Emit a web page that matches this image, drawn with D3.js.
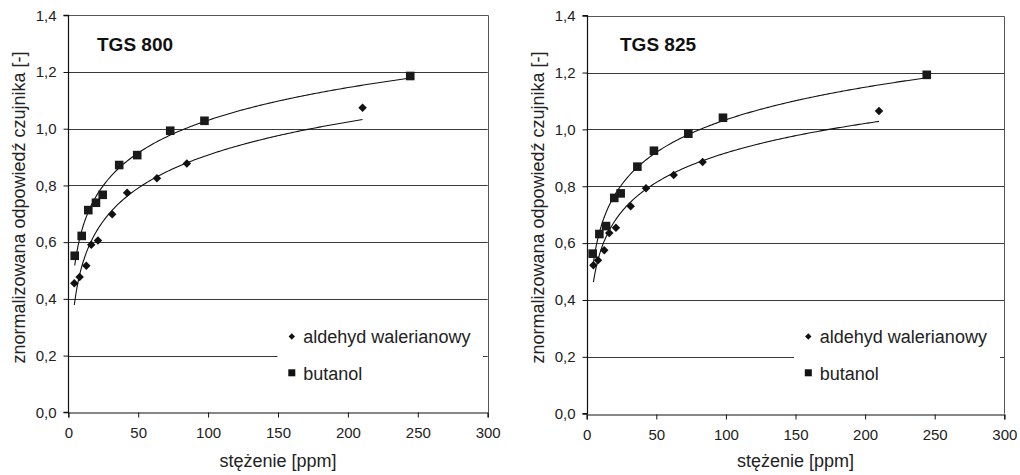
<!DOCTYPE html>
<html>
<head>
<meta charset="utf-8">
<script src="https://cdn.jsdelivr.net/npm/d3@7"></script>
<style>
  html, body { margin: 0; padding: 0; background: #fff; }
  svg { display: block; font-family: "Liberation Sans", Arial, sans-serif; }
</style>
</head>
<body>
<svg id="chart" width="1020" height="475"></svg>
<script>
// ---- data ----
const xTicks = [0, 50, 100, 150, 200, 250, 300];
const yTicks = [0, 0.2, 0.4, 0.6, 0.8, 1.0, 1.2, 1.4];
const seriesNames = ["aldehyd walerianowy", "butanol"];
const panelTitles = ["TGS 800", "TGS 825"];

// TGS 800
const tgs800AldehydX = [4.3, 8.1, 12.9, 16.4, 21.2, 31.4, 42.1, 63.4, 84.8, 210.5];
const tgs800AldehydY = [0.455, 0.477, 0.517, 0.591, 0.606, 0.698, 0.774, 0.825, 0.877, 1.074];
const tgs800ButanolX = [4.6, 9.6, 14.3, 19.8, 24.6, 36.4, 49.3, 72.9, 97.4, 244.6];
const tgs800ButanolY = [0.552, 0.622, 0.713, 0.739, 0.767, 0.872, 0.907, 0.993, 1.028, 1.186];

// TGS 825
const tgs825AldehydX = [4.8, 8.1, 12.6, 16.2, 21.0, 31.6, 42.6, 62.5, 83.3, 210.0];
const tgs825AldehydY = [0.522, 0.540, 0.575, 0.636, 0.654, 0.730, 0.793, 0.840, 0.885, 1.065];
const tgs825ButanolX = [4.3, 9.1, 13.9, 19.8, 24.4, 36.4, 48.3, 73.0, 97.9, 244.3];
const tgs825ButanolY = [0.563, 0.632, 0.660, 0.759, 0.775, 0.869, 0.925, 0.985, 1.041, 1.192];

const xLabel = "stężenie [ppm]";
const yLabel = "znormalizowana odpowiedź czujnika [-]";

// ---- layout ----
const panels = [
  { title: panelTitles[0], left: 68.3, right: 487.7, top: 15.3, bottom: 412.3,
    aX: tgs800AldehydX, aY: tgs800AldehydY, bX: tgs800ButanolX, bY: tgs800ButanolY,
    yTitleX: 18.5, titleX: 97, legendX0: 277.5, legendX1: 483 },
  { title: panelTitles[1], left: 586.7, right: 1004.3, top: 15.7, bottom: 413.7,
    aX: tgs825AldehydX, aY: tgs825AldehydY, bX: tgs825ButanolX, bY: tgs825ButanolY,
    yTitleX: 538, titleX: 620, legendX0: 794, legendX1: 1000 }
];

const svg = d3.select("#chart");
const fmt = d => d.toFixed(1).replace(".", ",");

function logFit(xs, ys) {
  const lx = xs.map(Math.log);
  const mx = d3.mean(lx), my = d3.mean(ys);
  let sxy = 0, sxx = 0;
  lx.forEach((v, i) => { sxy += (v - mx) * (ys[i] - my); sxx += (v - mx) * (v - mx); });
  const b = sxy / sxx, a = my - b * mx;
  return x => a + b * Math.log(x);
}

panels.forEach(p => {
  const x = d3.scaleLinear().domain([0, 300]).range([p.left, p.right]);
  const y = d3.scaleLinear().domain([0, 1.4]).range([p.bottom, p.top]);
  const g = svg.append("g");

  // gridlines
  g.append("g").selectAll("line").data(yTicks.filter(t => t > 0 && t < 1.4)).join("line")
    .attr("x1", p.left).attr("x2", p.right)
    .attr("y1", d => Math.round(y(d)) + 0.5).attr("y2", d => Math.round(y(d)) + 0.5)
    .attr("stroke", "#3a3a3a").attr("stroke-width", 1);

  // plot border (top & right)
  g.append("path")
    .attr("d", `M${p.left},${Math.round(p.top) + 0.5}H${Math.round(p.right) + 0.5}V${p.bottom}`)
    .attr("fill", "none").attr("stroke", "#555").attr("stroke-width", 1);

  // axes
  const yAxis = d3.axisLeft(y).tickValues(yTicks).tickFormat(fmt).tickSize(5).tickPadding(7);
  const gy = g.append("g").attr("transform", `translate(${Math.round(p.left) + 0.5},0)`).call(yAxis);
  const xAxis = d3.axisBottom(x).tickValues(xTicks).tickSize(5).tickPadding(10);
  const gx = g.append("g").attr("transform", `translate(0,${Math.round(p.bottom) + 0.5})`).call(xAxis);
  [gy, gx].forEach(ax => {
    ax.select(".domain").attr("stroke", "#111").attr("stroke-width", 1.2);
    ax.selectAll(".tick line").attr("stroke", "#111");
    ax.selectAll(".tick text").attr("font-size", 15).attr("fill", "#222")
      .attr("font-family", "'Liberation Sans', Arial, sans-serif");
  });
  gy.select(".domain").attr("d", `M-5,${y(1.4)}H0V${y(0)}H-5`);

  // legend background (white, no border)
  const lg = g.append("g");
  lg.append("rect")
    .attr("x", p.legendX0).attr("y", 318).attr("width", p.legendX1 - p.legendX0).attr("height", 78)
    .attr("fill", "#fff");

  // trend lines
  const lineGen = d3.line().x(d => x(d[0])).y(d => y(d[1]));
  [[p.aX, p.aY], [p.bX, p.bY]].forEach(([xs, ys]) => {
    const f = logFit(xs, ys);
    const x0 = d3.min(xs), x1 = d3.max(xs);
    const pts = d3.range(0, 201).map(i => {
      const xv = x0 + (x1 - x0) * i / 200;
      return [xv, f(xv)];
    });
    g.append("path").attr("d", lineGen(pts))
      .attr("fill", "none").attr("stroke", "#111").attr("stroke-width", 1.1);
  });

  // markers
  const diamond = d3.symbol().type(d3.symbolDiamond2).size(46);
  g.append("g").selectAll("path").data(p.aX.map((v, i) => [v, p.aY[i]])).join("path")
    .attr("d", diamond)
    .attr("transform", d => `translate(${x(d[0])},${y(d[1])})`)
    .attr("fill", "#111");
  g.append("g").selectAll("rect").data(p.bX.map((v, i) => [v, p.bY[i]])).join("rect")
    .attr("x", d => x(d[0]) - 4.3).attr("y", d => y(d[1]) - 4.3)
    .attr("width", 8.6).attr("height", 8.6)
    .attr("fill", "#1a1a1a");

  // legend entries
  const mx = p.legendX0 + 14.3;
  lg.append("path").attr("d", d3.symbol().type(d3.symbolDiamond2).size(26)())
    .attr("transform", `translate(${mx},336.5)`).attr("fill", "#111");
  lg.append("rect").attr("x", mx - 3.5).attr("y", 369.3).attr("width", 7).attr("height", 7)
    .attr("fill", "#111");
  lg.append("text").attr("x", mx + 11.5).attr("y", 342.5).attr("font-size", 18).attr("fill", "#222")
    .text(seriesNames[0]);
  lg.append("text").attr("x", mx + 11.5).attr("y", 379.5).attr("font-size", 18).attr("fill", "#222")
    .text(seriesNames[1]);

  // title
  g.append("text").attr("x", p.titleX).attr("y", 50.5)
    .attr("font-size", 19).attr("font-weight", "bold").attr("fill", "#111")
    .text(p.title);

  // axis titles
  g.append("text").attr("x", (p.left + p.right) / 2).attr("y", 467)
    .attr("text-anchor", "middle").attr("font-size", 18).attr("fill", "#222")
    .text(xLabel);
  g.append("text")
    .attr("transform", `translate(${p.yTitleX + 6},207.5) rotate(-90)`)
    .attr("text-anchor", "middle").attr("font-size", 18).attr("fill", "#222")
    .text(yLabel);
});
</script>
</body>
</html>
